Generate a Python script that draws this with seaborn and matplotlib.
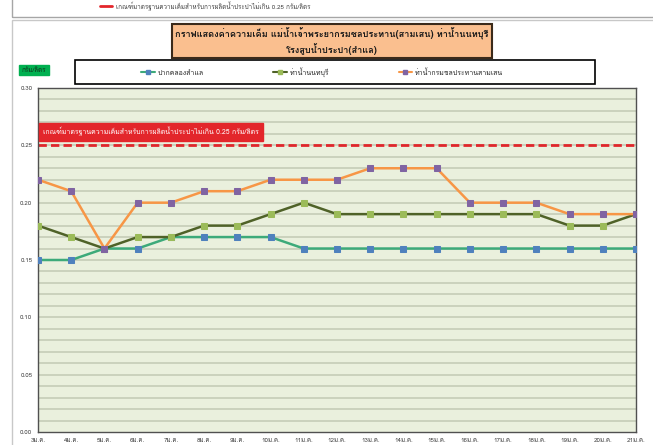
import numpy as np
import pandas as pd
import matplotlib
matplotlib.use("Agg")
import matplotlib.pyplot as plt
import seaborn as sns
from matplotlib import font_manager as fm
from matplotlib.ft2font import FT2Font
from matplotlib.lines import Line2D
from matplotlib.patches import Rectangle

# ── Data ────────────────────────────────────────────────────
days = [f"{d}ม.ค." for d in range(3, 22)]
samlae = [0.15, 0.15, 0.16, 0.16, 0.17, 0.17, 0.17, 0.17, 0.16, 0.16,
          0.16, 0.16, 0.16, 0.16, 0.16, 0.16, 0.16, 0.16, 0.16]
nonthaburi = [0.18, 0.17, 0.16, 0.17, 0.17, 0.18, 0.18, 0.19, 0.20, 0.19,
              0.19, 0.19, 0.19, 0.19, 0.19, 0.19, 0.18, 0.18, 0.19]
samsen = [0.22, 0.21, 0.16, 0.20, 0.20, 0.21, 0.21, 0.22, 0.22, 0.22,
          0.23, 0.23, 0.23, 0.20, 0.20, 0.20, 0.19, 0.19, 0.19]
series_names = ["ปากคลองสำแล", "ท่าน้ำนนทบุรี", "ท่าน้ำกรมชลประทานสามเสน"]
limit = 0.25
y_ticks = [0.00, 0.05, 0.10, 0.15, 0.20, 0.25, 0.30]

title = ("กราฟแสดงค่าความเค็ม แม่น้ำเจ้าพระยากรมชลประทาน(สามเสน) ท่าน้ำนนทบุรี\n"
         "โรงสูบน้ำประปา(สำแล)")
limit_label = "เกณฑ์มาตรฐานความเค็มสำหรับการผลิตน้ำประปาไม่เกิน 0.25 กรัม/ลิตร"
unit_label = "กรัม/ลิตร"


# ── Font with Thai glyphs ────────────────────────────────────
def thai_font():
    for f in fm.fontManager.ttflist:
        try:
            if 0x0E01 in FT2Font(f.fname).get_charmap():
                return f.name
        except Exception:
            pass
    return None


sns.set_style("white")
fam = thai_font()
plt.rcParams['font.family'] = ([fam] if fam else []) + ['DejaVu Sans']

df = pd.DataFrame({"day": days, "x": np.arange(len(days)),
                   series_names[0]: samlae,
                   series_names[1]: nonthaburi,
                   series_names[2]: samsen})

styles = {
    series_names[0]: dict(line="#3DAA7A", face="#4F81BD"),
    series_names[1]: dict(line="#4F6228", face="#9BBB59"),
    series_names[2]: dict(line="#F79646", face="#8064A2"),
}

fig = plt.figure(figsize=(6.53, 4.45), dpi=100)
W, H = 653, 445

# outer frames (cut panel on top + main panel)
fig.patches.append(Rectangle((12 / W, 1 - 17 / H), 1, 0.2, transform=fig.transFigure,
                             fill=False, edgecolor="#A6A6A6", lw=1))
fig.patches.append(Rectangle((12 / W, -0.1), 1, 1 - 20 / H + 0.1, transform=fig.transFigure,
                             fill=False, edgecolor="#C8C8C8", lw=1))

ax = fig.add_axes([38 / W, 1 - 432 / H, 598 / W, 344 / H])
ax.set_facecolor("#EAF0DD")

for y in np.arange(0.01, 0.30, 0.01):
    ax.axhline(y, color="#C2C9B4", lw=1.1, zorder=1)

for name in series_names:
    st = styles[name]
    sns.lineplot(data=df, x="x", y=name, ax=ax, color=st["line"], lw=1.8,
                 marker="s", markersize=4.5, markerfacecolor=st["face"],
                 markeredgecolor=st["face"], zorder=3)

ax.axhline(limit, color="#E0262B", lw=2, ls=(0, (3, 1.5)), zorder=2)
ax.text(0.15, 0.2615, limit_label, fontsize=5, color="white", va="center", ha="left",
        bbox=dict(boxstyle="square,pad=0.6", fc="#E3262B", ec="#E3262B"), zorder=4)

ax.set_xlim(0, len(days) - 1)
ax.set_ylim(0, 0.30)
ax.set_xticks(df["x"])
ax.set_xticklabels(days, fontsize=4.5, color="#404040")
ax.set_yticks(y_ticks)
ax.set_yticklabels([f"{v:.2f}" for v in y_ticks], fontsize=4.5, color="#404040")
ax.tick_params(axis="both", length=2, pad=2, colors="#404040")
ax.set_xlabel("")
ax.set_ylabel("")
for s in ax.spines.values():
    s.set_color("#505050")
    s.set_linewidth(1)

# title box
fig.text(0.508, 1 - 41 / H, title, ha="center", va="center", fontsize=6.6,
         fontweight="bold", color="#1a1a1a", linespacing=1.3,
         bbox=dict(boxstyle="square,pad=0.35", fc="#FABF8F", ec="#3B2A1A", lw=1.5))

# unit box
fig.text(34 / W, 1 - 70 / H, unit_label, ha="center", va="center", fontsize=4.5,
         color="#10301a", bbox=dict(boxstyle="square,pad=0.4", fc="#00B050", ec="#00B050"))

# legend box
fig.patches.append(Rectangle((75 / W, 1 - 84 / H), 520 / W, 24 / H, transform=fig.transFigure,
                             fill=True, facecolor="white", edgecolor="black", lw=1.2))
handles = [Line2D([0], [0], color=styles[n]["line"], lw=1.5, marker="s", markersize=3.5,
                  markerfacecolor=styles[n]["face"], markeredgecolor=styles[n]["face"])
           for n in series_names]
fig.legend(handles, series_names, ncol=3, fontsize=5, loc="center",
           bbox_to_anchor=(322 / W, 1 - 72 / H), frameon=False,
           handlelength=2, handletextpad=0.4, columnspacing=10)

# cut-off legend of the panel above
fig.lines.append(Line2D([100 / W, 112 / W], [1 - 6 / H, 1 - 6 / H], transform=fig.transFigure,
                        color="#E3262B", lw=2))
fig.text(116 / W, 1 - 6 / H, limit_label, fontsize=4.5, color="#404040", va="center")

fig.savefig("out.png", dpi=100)
